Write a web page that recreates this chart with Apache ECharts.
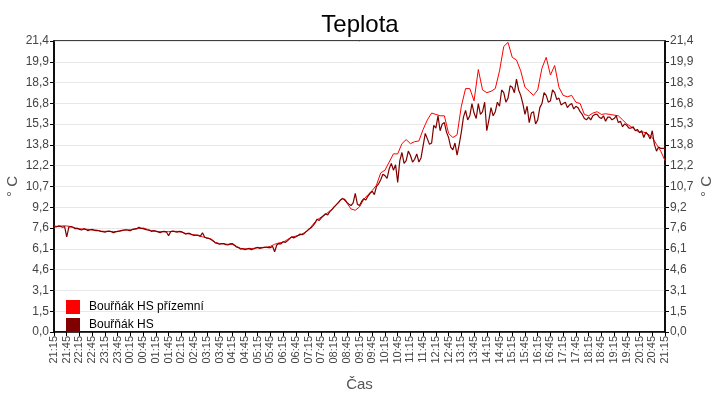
<!DOCTYPE html>
<html>
<head>
<meta charset="utf-8">
<script src="https://cdn.jsdelivr.net/npm/echarts@6/dist/echarts.min.js"></script>
<style>
  html, body { margin: 0; padding: 0; background: #fff; }
  #chart { width: 720px; height: 400px; }
</style>
</head>
<body>
<div id="chart"></div>
<script>
// cas v minutach od 21:15, osa jde do 21:15 dalsiho dne
const startMin = 21 * 60 + 15
const spanMin = 24 * 60
const labelStep = 30

// Bouřňák HS přízemní, odecet kazdych 10 min
const prizemni = [
  7.8, 7.75, 7.8, 7.8, 7.75, 7.65, 7.6, 7.55, 7.55, 7.5,
  7.5, 7.42, 7.4, 7.4, 7.38, 7.4, 7.48, 7.5, 7.52, 7.55,
  7.62, 7.65, 7.55, 7.45, 7.4, 7.38, 7.38, 7.38, 7.4, 7.4,
  7.35, 7.25, 7.2, 7.15, 7.08, 7.0, 6.92, 6.85, 6.6, 6.5,
  6.48, 6.45, 6.45, 6.3, 6.15, 6.12, 6.12, 6.15, 6.2, 6.22,
  6.22, 6.3, 6.45, 6.55, 6.6, 6.8, 6.98, 7.05, 7.13, 7.3,
  7.5, 7.9, 8.25, 8.45, 8.65, 8.9, 9.15, 9.55, 9.85, 9.5,
  9.05, 8.95, 9.2, 9.75, 10.1, 10.4, 10.8, 11.7, 11.9, 12.5,
  13.1, 13.1, 13.85, 14.15, 13.85, 14.0, 14.05, 14.9, 15.6, 16.1,
  16.0, 15.9, 15.9, 14.6, 14.3, 14.5, 16.6, 17.9, 17.9, 17.0,
  19.3, 17.8, 17.6, 17.7, 17.9, 19.2, 21.0, 21.3, 20.2, 20.0,
  19.2, 18.0, 17.7, 17.4, 17.8, 19.4, 20.2, 18.9, 19.6, 18.0,
  17.4, 17.3, 17.4, 16.9, 16.8, 16.0, 15.9, 16.1, 16.2, 16.0,
  16.05, 16.0, 15.95, 15.9, 15.6, 15.3, 15.1, 14.85, 14.7, 14.7,
  14.55, 14.3, 13.8, 13.3, 12.6
]

// Bouřňák HS, odecet kazdych 5 min
const hs = [
  7.75, 7.72, 7.8, 7.78, 7.7, 7.75, 7.0, 7.72, 7.75, 7.7,
  7.6, 7.62, 7.55, 7.5, 7.6, 7.55, 7.45, 7.52, 7.55, 7.48,
  7.45, 7.45, 7.4, 7.38, 7.35, 7.4, 7.42, 7.38, 7.3, 7.36,
  7.4, 7.42, 7.45, 7.5, 7.52, 7.48, 7.45, 7.55, 7.58, 7.6,
  7.7, 7.62, 7.6, 7.55, 7.5, 7.48, 7.4, 7.45, 7.42, 7.36,
  7.3, 7.38, 7.4, 7.35, 7.08, 7.38, 7.42, 7.38, 7.35, 7.4,
  7.38, 7.3, 7.2, 7.25, 7.25, 7.15, 7.1, 7.12, 7.12, 7.05,
  7.3, 6.98, 6.9, 6.88, 6.8, 6.7, 6.55, 6.52, 6.45, 6.5,
  6.5, 6.42, 6.4, 6.48, 6.5, 6.4, 6.25, 6.2, 6.1, 6.12,
  6.05, 6.1, 6.15, 6.05, 6.1, 6.18, 6.22, 6.15, 6.18, 6.22,
  6.25, 6.2, 6.2, 6.3, 5.9, 6.4, 6.5, 6.48, 6.65, 6.58,
  6.7, 6.85, 7.0, 6.92, 7.0, 7.1, 7.2, 7.15, 7.25, 7.4,
  7.55, 7.65, 7.8, 8.0, 8.3, 8.2, 8.4, 8.55, 8.7, 8.6,
  8.85, 9.0, 9.2, 9.35, 9.5, 9.7, 9.8, 9.75, 9.55, 9.4,
  9.3, 9.5, 10.2, 9.4, 9.3, 9.6, 9.8, 9.7, 10.0, 10.2,
  10.35, 10.1, 10.7, 10.9, 11.2, 11.6, 11.5, 11.3, 12.0, 12.4,
  11.9, 12.3, 11.0, 12.6, 13.2, 12.4, 12.6, 13.3, 13.0, 12.5,
  12.7, 13.1, 12.5, 12.8, 13.7, 14.6, 14.2, 13.8, 13.9, 15.2,
  15.0, 15.9, 14.8, 15.3, 15.4, 14.7, 14.3, 13.6, 13.4, 13.9,
  13.0, 13.8, 14.7, 15.8, 16.3, 15.6, 15.9, 16.8, 16.1, 15.7,
  16.8, 16.0, 16.2, 16.9, 14.8, 15.6, 16.5, 15.9, 16.2, 16.9,
  16.6, 17.8, 17.6, 16.9, 17.2, 18.1, 18.0, 17.6, 18.6, 17.8,
  17.4, 16.8, 16.0, 16.6, 15.4, 16.1, 16.2, 15.3, 15.6, 16.5,
  16.8, 17.6, 17.4, 16.9, 17.0, 17.8, 17.6, 17.1, 17.2, 16.7,
  16.8, 16.9, 16.5, 16.7, 16.8, 16.4, 16.6, 16.5, 16.2, 16.0,
  15.7, 15.6, 15.8, 15.6, 15.9, 16.0, 16.0, 15.8, 15.7, 15.9,
  15.5, 15.8, 15.8, 15.6, 15.7, 15.9, 15.4, 15.5, 15.1, 15.3,
  15.2, 15.0, 15.0, 15.1, 14.8, 14.9, 14.65, 14.8, 14.3, 14.7,
  14.5, 14.2, 14.8, 13.8, 13.3, 13.6, 13.5, 13.5, 13.5
]

const yTickLabels = ['0,0', '1,5', '3,1', '4,6', '6,1', '7,6', '9,2', '10,7',
  '12,2', '13,8', '15,3', '16,8', '18,3', '19,9', '21,4']
const yMax = 21.4
const yStep = yMax / (yTickLabels.length - 1)

function clock(min) {
  const m = (startMin + min) % (24 * 60)
  return String(Math.floor(m / 60)).padStart(2, '0') + ':' + String(m % 60).padStart(2, '0')
}

const chart = echarts.init(document.getElementById('chart'))

function yAxisCfg(pos) {
  return {
    type: 'value', position: pos, min: 0, max: yMax, interval: yStep,
    name: '° C', nameLocation: 'middle', nameGap: 34, nameRotate: 90, nameMoveOverlap: false,
    nameTextStyle: { color: '#555', fontSize: 15, fontFamily: 'Liberation Sans' },
    axisLine: { show: true, lineStyle: { color: '#000', width: 1.5 } },
    axisTick: { show: true, length: 4, lineStyle: { color: '#000' } },
    axisLabel: {
      color: '#444', fontSize: 12, fontFamily: 'Liberation Sans', margin: 5,
      formatter: v => yTickLabels[Math.round(v / yStep)]
    },
    splitLine: { show: pos === 'left', lineStyle: { color: '#e8e8e8' } }
  }
}

chart.setOption({
  animation: false,
  backgroundColor: '#fff',
  title: {
    text: 'Teplota', left: 'center', top: 8,
    textStyle: { fontSize: 24, fontWeight: 'normal', color: '#000', fontFamily: 'Liberation Sans' }
  },
  legend: {
    orient: 'vertical', left: 61, top: 295, itemWidth: 14, itemHeight: 14, itemGap: 4,
    icon: 'rect',
    textStyle: { fontSize: 12, color: '#000', fontFamily: 'Liberation Sans', padding: [0, 0, 0, 4] },
    data: ['Bouřňák HS přízemní', 'Bouřňák HS']
  },
  grid: {
    left: 54, right: 55, top: 41, bottom: 68, outerBoundsMode: 'none',
    show: true, borderColor: '#000', borderWidth: 1.5
  },
  xAxis: {
    type: 'value', min: 0, max: spanMin, interval: labelStep,
    name: 'Čas', nameLocation: 'middle', nameGap: 45,
    nameTextStyle: { color: '#555', fontSize: 15, fontFamily: 'Liberation Sans' },
    axisLine: { lineStyle: { color: '#000', width: 1.5 } },
    axisTick: { length: 4, lineStyle: { color: '#000' } },
    axisLabel: {
      rotate: 90, color: '#444', fontSize: 11, fontFamily: 'Liberation Sans', margin: 4,
      showMinLabel: true, showMaxLabel: true, formatter: v => clock(v)
    },
    splitLine: { show: false }
  },
  yAxis: [yAxisCfg('left'), yAxisCfg('right')],
  series: [
    {
      name: 'Bouřňák HS přízemní', type: 'line', showSymbol: false,
      data: prizemni.map((v, i) => [i * 10, v]),
      lineStyle: { color: '#ff0000', width: 1 }, itemStyle: { color: '#ff0000' }
    },
    {
      name: 'Bouřňák HS', type: 'line', showSymbol: false,
      data: hs.map((v, i) => [i * 5, v]),
      lineStyle: { color: '#800000', width: 1.2 }, itemStyle: { color: '#800000' }
    }
  ]
})
</script>
</body>
</html>
